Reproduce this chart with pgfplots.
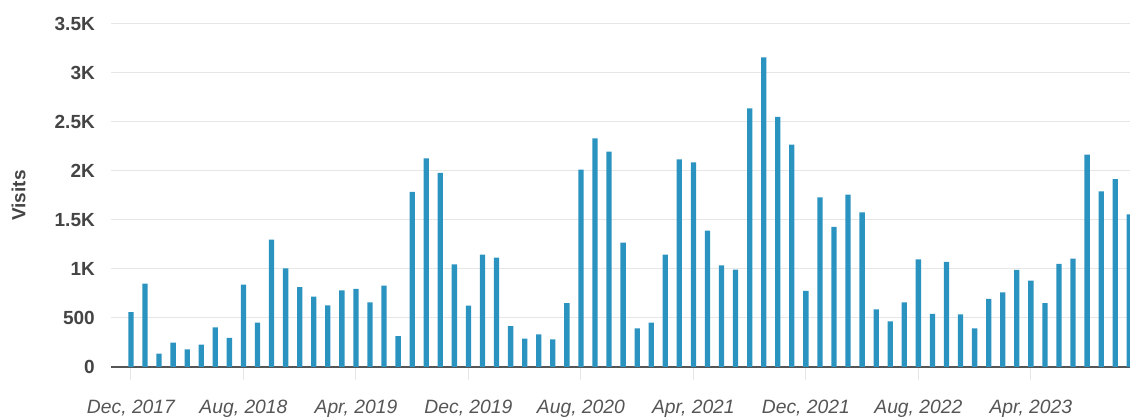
\documentclass[border=0pt]{standalone}
\usepackage{fontspec}
\setmainfont{Liberation Sans}
\usepackage{pgfplots}
\pgfplotsset{compat=1.18}
\usepackage{pgfplotstable}
\definecolor{barblue}{HTML}{2B93C0}
\definecolor{gridgray}{HTML}{E6E6E6}
\definecolor{axisgray}{HTML}{555555}
\definecolor{labgray}{HTML}{555555}
\definecolor{ylabcol}{HTML}{444444}
\pgfplotstableread{
m v
0 560
1 850
2 137
3 249
4 181
5 228
6 405
7 296
8 840
9 453
10 1300
11 1007
12 816
13 718
14 630
15 783
16 796
17 660
18 830
19 316
20 1786
21 2130
22 1980
23 1048
24 626
25 1147
26 1116
27 418
28 289
29 333
30 282
31 653
32 2014
33 2334
34 2198
35 1269
36 395
37 453
38 1147
39 2119
40 2089
41 1392
42 1038
43 994
44 2640
45 3160
46 2551
47 2269
48 776
49 1732
50 1429
51 1759
52 1579
53 589
54 466
55 660
56 1099
57 541
58 1072
59 538
60 395
61 694
62 762
63 990
64 882
65 653
66 1051
67 1106
68 2167
69 1793
70 1918
71 1558
}\visits
\begin{document}
\begin{tikzpicture}
\begin{axis}[
  at={(0,0)}, anchor=south west,
  scale only axis, width=1019pt, height=343pt,
  xmin=-1.42, xmax=71.05, ymin=0, ymax=3500,
  ytick={0,500,...,3500},
  yticklabels={0,500,1K,1.5K,2K,2.5K,3K,3.5K},
  xtick={0,8,...,64},
  xticklabels={{Dec, 2017},{Aug, 2018},{Apr, 2019},{Dec, 2019},{Aug, 2020},{Apr, 2021},{Dec, 2021},{Aug, 2022},{Apr, 2023}},
  /pgf/number format/assume math mode=true,
  axis x line*=bottom, axis y line*=left,
  x axis line style={draw=axisgray, line width=1.5pt, -},
  y axis line style={draw=none},
  ymajorgrids, grid style={draw=gridgray, line width=1pt},
  xtick align=outside, major tick length=13pt,
  xtick style={draw=gridgray, line width=1pt},
  ytick style={draw=none},
  xticklabel style={font=\fontsize{19.3}{22}\selectfont\itshape, text=labgray, anchor=north, inner sep=0pt, yshift=-20pt},
  yticklabel style={font=\fontsize{19}{22}\selectfont\bfseries, text=ylabcol, anchor=east, inner sep=0pt, xshift=-16pt},
  ylabel={Visits},
  every axis y label/.style={at={(rel axis cs:0,0.5)}, xshift=-92.5pt, anchor=center, rotate=90, font=\fontsize{19}{22}\selectfont\bfseries, text=ylabcol},
  ybar, bar width=5.3pt,
]
\addplot[fill=barblue, draw=none] table[x=m, y=v] {\visits};
\end{axis}
\pgfresetboundingbox
\useasboundingbox (-111pt,-52pt) rectangle (1019pt,367pt);
\end{tikzpicture}
\end{document}
